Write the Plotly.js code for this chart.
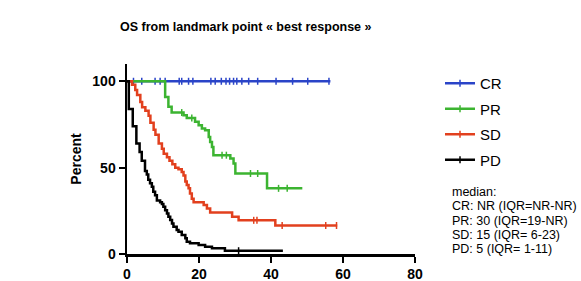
<!DOCTYPE html>
<html><head><meta charset="utf-8">
<script src="https://cdn.plot.ly/plotly-3.0.1.min.js"></script>
<style>html,body{margin:0;padding:0;background:#fff;}#chart{width:581px;height:281px;}</style>
</head><body><div id="chart"></div>
<script>
// Kaplan-Meier step data (time in months, survival in percent)
const groupNames = ['CR', 'PR', 'SD', 'PD'];
const groupColors = ['#2a44c8', '#3cb431', '#e2401e', '#000000'];

const CR_time = [0, 56.5];
const CR_surv = [100, 100];
const CR_censor = [1.8, 4.1, 7.8, 9.2, 10.6, 14.5, 15.2, 17.1, 18.3, 23.3, 24.5, 26.2, 27.5, 28.5, 29.6, 30.5, 31.9, 33.8, 36.3, 41.4, 46.0, 50.2, 56.1];

const PR_time = [0, 10.6, 11.5, 12.4, 15.7, 16.6, 18.9, 19.9, 20.8, 21.7, 22.7, 23.1, 23.6, 24.0, 28.7, 29.6, 30.1, 38.9, 48.7];
const PR_surv = [100, 90.9, 85.2, 81.9, 80.3, 78.8, 76.5, 74.6, 72.6, 71.7, 67.8, 64.9, 62.0, 57.2, 55.3, 52.4, 46.6, 38.0, 38.0];
const PR_censor = [15.2, 18.0, 26.4, 27.6, 34.3, 36.3, 42.1, 44.5];

const SD_time = [0, 1.4, 2.3, 2.8, 3.7, 4.2, 5.1, 6.0, 6.5, 7.4, 7.9, 8.8, 9.7, 10.2, 11.1, 11.8, 12.6, 13.4, 14.3, 15.2, 15.7, 16.2, 16.6, 17.1, 17.5, 18.0, 18.5, 21.3, 22.2, 23.1, 29.2, 31.0, 41.2, 58.4];
const SD_surv = [100, 98, 95, 92, 88, 85, 83, 80, 76, 72, 69, 64, 61, 58, 56, 54, 52, 50, 49, 47.5, 45.5, 42, 40, 38, 35, 32, 30, 28.3, 26.4, 24, 21.5, 19.5, 16.5, 16.5];
const SD_censor = [35.2, 36.1, 43.1, 55.2, 58.2];

const PD_time = [0, 0.5, 1.6, 2.6, 3.5, 4.1, 5.0, 5.5, 5.9, 6.4, 6.9, 7.3, 7.8, 8.3, 9.2, 9.7, 10.1, 10.6, 11.1, 11.5, 12.0, 12.5, 12.9, 13.8, 14.3, 15.2, 16.2, 16.6, 17.5, 19.9, 21.7, 23.6, 27.2, 43.3];
const PD_surv = [100, 84, 74, 64, 59, 54, 48, 46, 43, 41, 39, 36, 34, 31, 30, 29, 27.4, 25.4, 23.5, 21.6, 19.7, 17.7, 15.8, 13.9, 12.9, 11, 9.1, 7.1, 6.2, 5.2, 4.2, 3.3, 1.9, 1.9];
const PD_censor = [31.0];

const xTicks = [0, 20, 40, 60, 80];
const yTicks = [0, 50, 100];
const medianLines = ['median:', 'CR: NR (IQR=NR-NR)', 'PR: 30 (IQR=19-NR)', 'SD: 15 (IQR= 6-23)', 'PD: 5 (IQR= 1-11)'];

const series = [
  {t: CR_time, s: CR_surv, c: CR_censor},
  {t: PR_time, s: PR_surv, c: PR_censor},
  {t: SD_time, s: SD_surv, c: SD_censor},
  {t: PD_time, s: PD_surv, c: PD_censor}
];

function survAt(t, s, x) {
  let v = s[0];
  for (let i = 0; i < t.length; i++) { if (t[i] <= x) v = s[i]; }
  return v;
}

const tickMarker = (col) => ({symbol: 'line-ns-open', size: 5, color: col, line: {color: col, width: 1.5}});

const traces = [];
// legend entries
groupNames.forEach((name, i) => {
  traces.push({
    x: [null], y: [null], type: 'scatter', mode: 'lines+markers', name: name,
    legendgroup: name,
    line: {color: groupColors[i], width: 2.5},
    marker: tickMarker(groupColors[i]),
    hoverinfo: 'skip'
  });
});
// curves and censor marks
series.forEach((d, i) => {
  traces.push({
    x: d.t, y: d.s, type: 'scatter', mode: 'lines', legendgroup: groupNames[i], showlegend: false,
    line: {shape: 'hv', color: groupColors[i], width: 2.5}, hoverinfo: 'skip'
  });
  traces.push({
    x: d.c, y: d.c.map(x => survAt(d.t, d.s, x)), type: 'scatter', mode: 'markers',
    legendgroup: groupNames[i], showlegend: false, cliponaxis: false,
    marker: tickMarker(groupColors[i]),
    hoverinfo: 'skip'
  });
});

const medY = [192, 206.3, 220.6, 234.9, 249.2];
const annotations = medianLines.map((txt, i) => ({
  text: txt, xref: 'paper', yref: 'paper', x: (449.5 - 127) / 288, y: (254 - medY[i]) / 190,
  xanchor: 'left', yanchor: 'middle', showarrow: false,
  font: {size: 12.5, color: '#000', family: 'Liberation Sans, Arial, sans-serif'}
}));

const axisCommon = {
  showline: true, linewidth: 2.5, linecolor: '#000', ticks: 'outside', ticklen: 6, tickwidth: 2,
  tickcolor: '#000', showgrid: false, zeroline: false, fixedrange: true,
  tickfont: {size: 14, weight: 'bold', color: '#000'}
};

const layout = {
  width: 581, height: 281,
  margin: {l: 127, r: 166, t: 64, b: 27, pad: 0},
  paper_bgcolor: '#fff', plot_bgcolor: '#fff',
  font: {family: 'Liberation Sans, Arial, sans-serif', color: '#000'},
  showlegend: true,
  title: {text: 'OS from landmark point « best response »', font: {size: 12.5, weight: 'bold', color: '#000'},
          xref: 'container', x: 0.423, xanchor: 'center', yref: 'container', y: 0.905, yanchor: 'middle'},
  xaxis: Object.assign({}, axisCommon, {range: [0, 80], tickvals: xTicks}),
  yaxis: Object.assign({}, axisCommon, {range: [0, 110], tickvals: yTicks,
          title: {text: 'Percent', font: {size: 14, weight: 'bold', color: '#000'}, standoff: 8}}),
  legend: {x: (440 - 127) / 288, xanchor: 'left', y: (254 - 67) / 190, yanchor: 'top',
           font: {size: 15, color: '#000'}, bgcolor: 'rgba(0,0,0,0)', traceorder: 'grouped', tracegroupgap: 3},
  annotations: annotations
};

Plotly.newPlot('chart', traces, layout, {staticPlot: true, displayModeBar: false});
</script>
</body></html>
